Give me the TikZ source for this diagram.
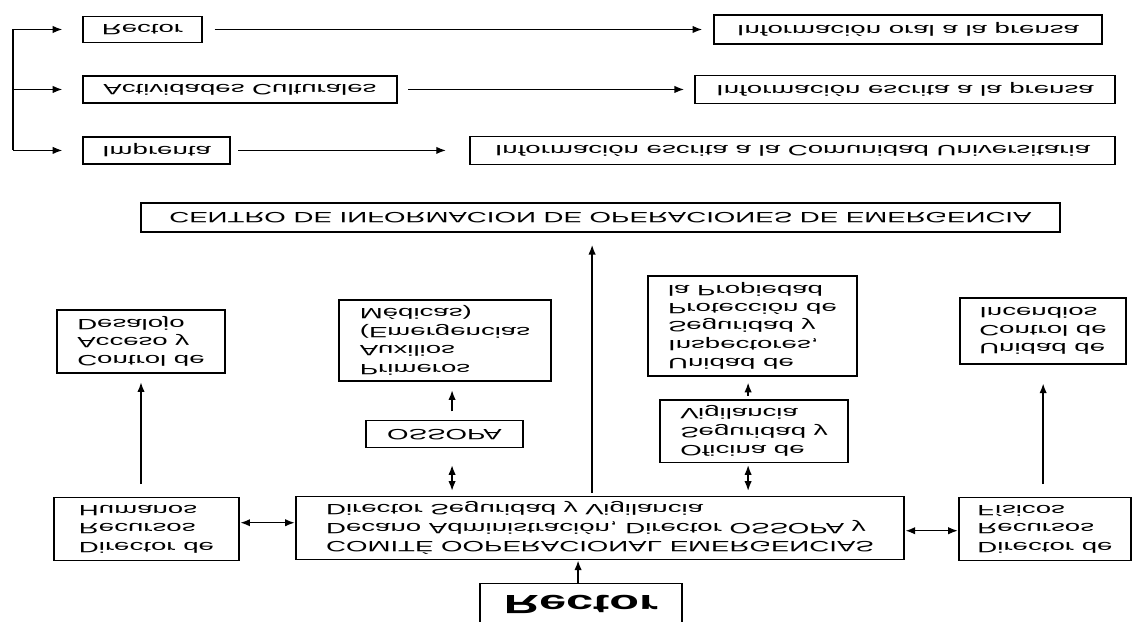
\documentclass[tikz,border=0pt]{standalone}
\usepackage{fontspec}
\setmainfont{Liberation Sans}
\usetikzlibrary{arrows.meta}

\newcommand{\letra}{\fontsize{8.5}{10.5}\selectfont}
\newcommand{\letrag}{\fontsize{15}{18}\selectfont\bfseries}

\tikzset{
	caja/.style={draw, line width=0.8pt, transform shape, font=\letra, inner sep=0pt, align=left},
	tam/.style 2 args={minimum width=#1*0.010811cm, minimum height=#2*0.02cm},
	flecha/.style={-{Latex[length=5.5pt,width=4.2pt]}, line width=0.8pt},
	doble/.style={{Latex[length=5.5pt,width=4.2pt]}-{Latex[length=5.5pt,width=4.2pt]}, line width=0.8pt},
}

\begin{document}
\begin{tikzpicture}[x=0.010811cm, y=0.02cm, xscale=1.85, yscale=-1]

	\clip (0,0) rectangle (1133,622);
	\fill[white] (0,0) rectangle (1133,622);

	% difusion
	\node[caja, tam={119}{26}] (rect1)  at (142.5, 29.5) {Rector};
	\node[caja, tam={314}{27}] (activ)  at (240, 89.5)   {Actividades Culturales};
	\node[caja, tam={147}{27}] (impr)   at (156.5, 150.5) {Imprenta};
	\node[caja, tam={388}{29}] (oral)   at (908, 29.5)   {Información oral a la prensa};
	\node[caja, tam={420}{28}] (prensa) at (905, 89.5)   {Información escrita a la prensa};
	\node[caja, tam={645}{28}] (comun)  at (792.5, 150.5) {Información escrita a la Comunidad Universitaria};

	\node[caja, tam={919}{29}] (centro) at (600.5, 217.5) {CENTRO DE INFORMACION DE OPERACIONES DE EMERGENCIA};

	% unidades
	\node[caja, tam={168}{63}]  (control) at (141, 341.5)  {Control de\\Acceso y\\Desalojo};
	\node[caja, tam={212}{81}]  (primer)  at (445, 340.5)  {Primeros\\Auxilios\\(Emergencias\\Médicas)};
	\node[caja, tam={157}{27}]  (ossopa)  at (444.5, 434.5) {OSSOPA};
	\node[caja, tam={209}{100}] (unidad)  at (752.5, 326)  {Unidad de\\Inspectores,\\Seguridad y\\Protección de\\la Propiedad};
	\node[caja, tam={188}{63}]  (oficina) at (754, 431.5)  {Oficina de\\Seguridad y\\Vigilancia};
	\node[caja, tam={166}{66}]  (incend)  at (1043, 331)   {Unidad de\\Control de\\Incendios};

	\node[caja, tam={185}{63}] (humanos) at (146.5, 529.5) {Director de\\Recursos\\Humanos};
	\node[caja, tam={608}{63}] (comite)  at (600, 528.5)   {COMITÉ OOPERACIONAL EMERGENCIAS\\Decano Administración, Director OSSOPA y\\Director Seguridad y Vigilancia};
	\node[caja, tam={172}{63}] (fisicos) at (1045, 529.5)  {Director de\\Recursos\\Físicos};

	\node[caja, tam={202}{42}, font=\letrag] (rector) at (581, 605) {Rector};

	\coordinate (br) at (13, 0);
	\coordinate (a1) at (452, 0);
	\coordinate (a2) at (748, 0);
	\coordinate (a3) at (592, 0);
	\coordinate (a4) at (578, 0);
	\coordinate (h1) at (0, 523);
	\coordinate (h2) at (0, 531);

	\draw[line width=0.8pt] (rect1.west -| br) -- (impr.west -| br);
	\foreach \n in {rect1, activ, impr}
		\draw[flecha, shorten >=11pt] (\n.west -| br) -- (\n.west);

	\draw[flecha, shorten <=6.5pt, shorten >=6pt] (rect1) -- (oral);
	\draw[flecha, shorten <=5.5pt, shorten >=5.5pt] (activ) -- (prensa);
	\draw[flecha, shorten <=4pt, shorten >=13pt] (impr) -- (comun);

	\draw[flecha] (rector.south -| a4) -- (comite.north -| a4);
	\draw[flecha, shorten <=2pt, shorten >=7pt] (comite.south -| a3) -- (centro.north -| a3);

	\draw[doble] (humanos.east |- h1) -- (comite.west |- h1);
	\draw[doble] (comite.east |- h2) -- (fisicos.west |- h2);

	\draw[flecha, shorten <=7.4pt, shorten >=5pt] (humanos.south -| control) -- (control.north);
	\draw[flecha, shorten <=7.4pt, shorten >=10.8pt] (fisicos.south -| incend) -- (incend.north);

	\draw[doble, shorten <=3pt, shorten >=9.5pt] (comite.south -| a1) -- (ossopa.north -| a1);
	\draw[flecha, shorten <=5pt, shorten >=5pt] (ossopa.south -| a1) -- (primer.north -| a1);

	\draw[doble, shorten <=3pt, shorten >=1pt] (comite.south -| a2) -- (oficina.north -| a2);
	\draw[flecha, shorten <=2pt, shorten >=3.5pt] (oficina.south -| a2) -- (unidad.north -| a2);

\end{tikzpicture}
\end{document}
